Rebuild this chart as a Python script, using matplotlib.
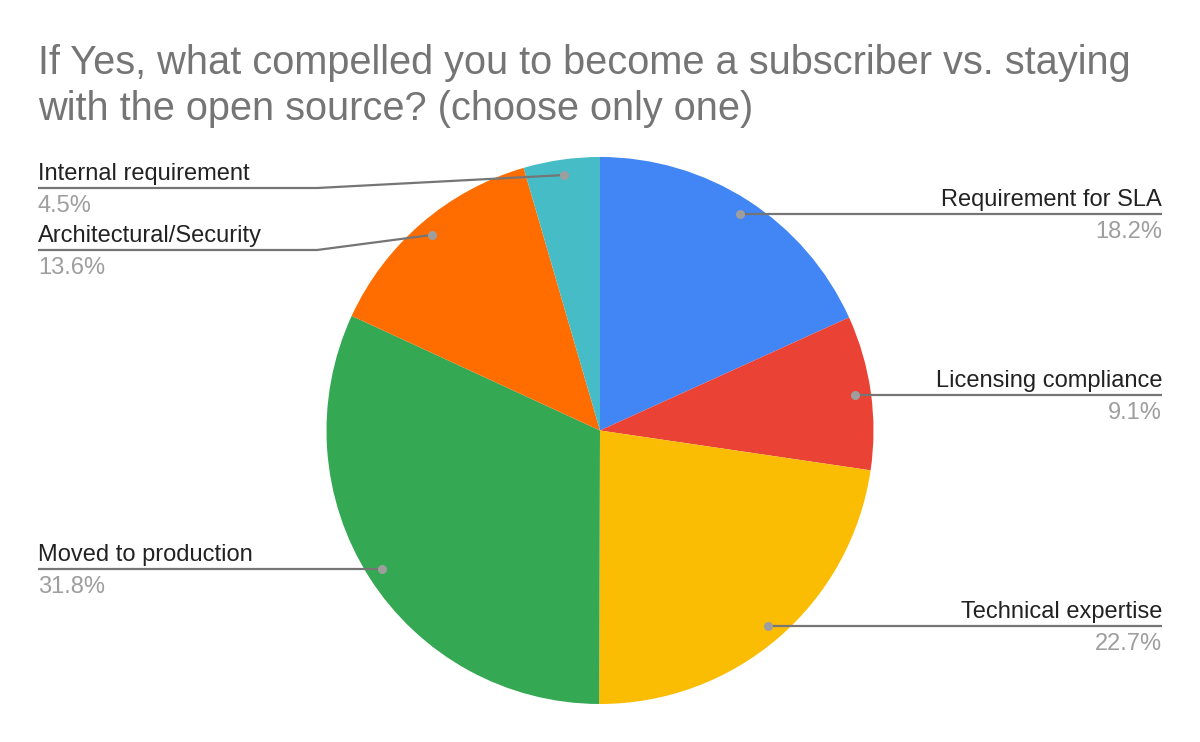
import numpy as np
import matplotlib
matplotlib.use('Agg')
import matplotlib.pyplot as plt

# data (clockwise from 12 o'clock)
categories = ['Requirement for SLA', 'Licensing compliance', 'Technical expertise',
              'Moved to production', 'Architectural/Security', 'Internal requirement']
shares = [18.2, 9.1, 22.7, 31.8, 13.6, 4.5]
colors = ['#4285F4', '#EA4335', '#FBBC04', '#34A853', '#FF6D01', '#46BDC6']

title_lines = ['If Yes, what compelled you to become a subscriber vs. staying',
               'with the open source? (choose only one)']

W, H = 1200, 742
CX, CY, R = 600, 742 - 430.5, 273.5
DOT_R = 258

plt.rcParams['font.family'] = ['Liberation Sans', 'DejaVu Sans']

fig = plt.figure(figsize=(W / 100, H / 100), dpi=100)
ax = fig.add_axes([0, 0, 1, 1])
ax.set_xlim(0, W)
ax.set_ylim(0, H)
ax.set_aspect('equal')
ax.axis('off')

ax.pie(shares, colors=colors, startangle=90, counterclock=False,
       center=(CX, CY), radius=R, wedgeprops=dict(linewidth=0))
ax.set_xlim(0, W)
ax.set_ylim(0, H)

# leader line y (pixels from top) where labels were pushed apart
line_y_override = {'Architectural/Security': 250, 'Internal requirement': 188}
ELBOW_X = 317

total = sum(shares)
cum = 0.0
for name, v in zip(categories, shares):
    mid = (cum + v / 2) / total * 2 * np.pi
    cum += v
    dx = DOT_R * np.sin(mid)
    dy = DOT_R * np.cos(mid)
    px, py = CX + dx, CY + dy
    right = dx > 0
    ly = H - line_y_override.get(name, H - py)
    if right:
        xs, ys = [px, 1162], [py, ly]
        tx, ha = 1162, 'right'
    else:
        if abs(ly - py) > 1:
            xs, ys = [px, ELBOW_X, 38], [py, ly, ly]
        else:
            xs, ys = [px, 38], [py, ly]
        tx, ha = 38, 'left'
    ax.plot(xs, ys, color='#757575', lw=1.6, solid_capstyle='butt', zorder=3)
    ax.plot([px], [py], 'o', color='#9E9E9E', ms=6.5, mec='none', zorder=4)
    ax.text(tx, ly + 8, name, ha=ha, va='baseline', fontsize=17, color='#222222')
    ax.text(tx, ly - 24, '%.1f%%' % v, ha=ha, va='baseline', fontsize=17, color='#9E9E9E')

for i, line in enumerate(title_lines):
    ax.text(38, H - 74 - 46 * i, line, ha='left', va='baseline', fontsize=28.6,
            color='#757575')

fig.savefig('out.png', dpi=100)
